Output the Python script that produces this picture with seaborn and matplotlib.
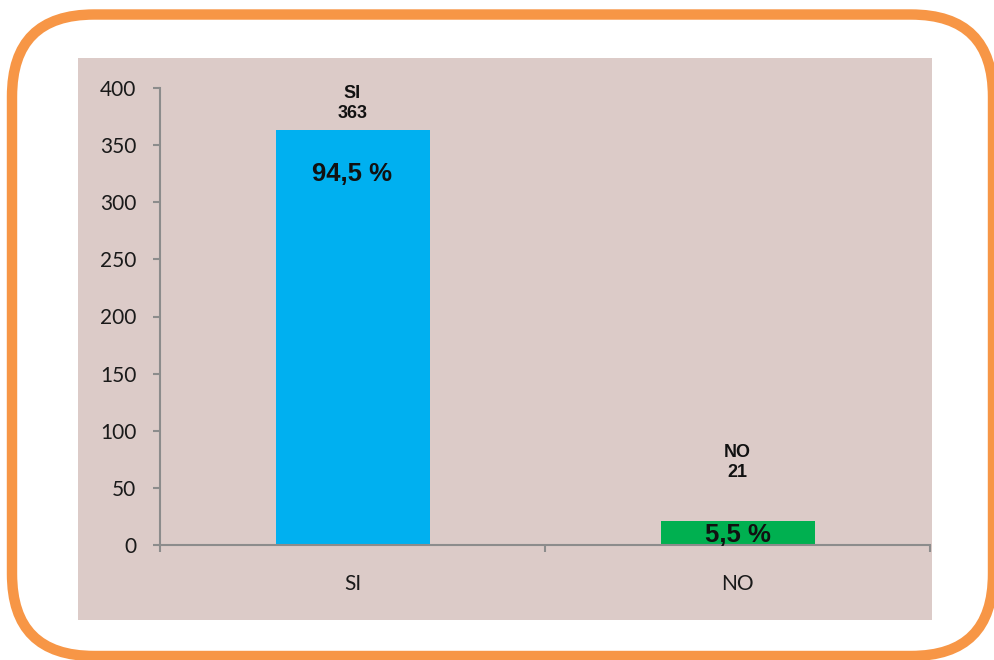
import matplotlib
matplotlib.use("Agg")
import matplotlib.pyplot as plt
from matplotlib.patches import FancyBboxPatch, Rectangle
import seaborn as sns
import pandas as pd

categories = ["SI", "NO"]
values = [363, 21]
percent_labels = ["94,5 %", "5,5 %"]
colors = ["#00B0F0", "#00B050"]

sns.set_style("white")
plt.rcParams["font.family"] = ["Liberation Sans", "DejaVu Sans"]
bold_family = ["Liberation Sans", "DejaVu Sans"]

W, H = 995, 660
fig = plt.figure(figsize=(W / 100, H / 100), dpi=100)
fig.patch.set_facecolor("white")

# background layer in pixel coordinates
bg = fig.add_axes([0, 0, 1, 1])
bg.set_xlim(0, W)
bg.set_ylim(H, 0)
bg.axis("off")
bg.add_patch(Rectangle((78, 58), 854, 562, facecolor="#DCCBC8", edgecolor="none"))
bg.add_patch(FancyBboxPatch((12, 14.5), 981, 641.5,
                            boxstyle="round,pad=0,rounding_size=82",
                            facecolor="none", edgecolor="#F79646", linewidth=7.5))

ax = fig.add_axes([160 / W, 1 - 545 / H, 770 / W, 457 / H])
ax.set_facecolor("none")
df = pd.DataFrame({"cat": categories, "val": values})
sns.barplot(data=df, x="cat", y="val", hue="cat", palette=colors, width=0.4,
            legend=False, ax=ax, saturation=1, edgecolor="none", linewidth=0)

ax.set_xlim(-0.5, 1.5)
ax.set_ylim(0, 400)
ax.set_yticks(range(0, 401, 50))
ax.set_xlabel("")
ax.set_ylabel("")
for s in ["top", "right"]:
    ax.spines[s].set_visible(False)
for s in ["left", "bottom"]:
    ax.spines[s].set_color("#8C8C8C")
    ax.spines[s].set_linewidth(1.5)

ax.set_xticks([0, 1])
ax.set_xticklabels(categories)
ax.set_xticks([-0.5, 0.5, 1.5], minor=True)
ax.tick_params(axis="x", which="major", bottom=False, length=0, pad=21)
ax.tick_params(axis="x", which="minor", bottom=True, length=5, width=1.5,
               color="#8C8C8C", direction="out")
ax.tick_params(axis="y", which="major", left=True, length=5, width=1.5, color="#8C8C8C",
               direction="out", pad=12)
for lab in ax.get_xticklabels() + ax.get_yticklabels():
    lab.set_fontfamily(["Lato", "DejaVu Sans"])
    lab.set_fontsize(15)
    lab.set_color("#1a1a1a")

# value labels (name + value above each bar)
label_offsets = [8, 40]     # pixels above bar top
pct_offsets = [-44, -14]    # pixels from bar top to percent text centre
for i, (c, v, p) in enumerate(zip(categories, values, percent_labels)):
    ax.annotate(f"{c}\n{v}", xy=(i, v), xytext=(0, label_offsets[i] * 0.72),
                textcoords="offset points", ha="center", va="bottom",
                fontsize=13, fontweight="bold", linespacing=1.25,
                family=bold_family, color="#111111")
    ax.annotate(p, xy=(i, v), xytext=(0, pct_offsets[i] * 0.72),
                textcoords="offset points", ha="center", va="center",
                fontsize=18.5, fontweight="bold",
                family=bold_family, color="#111111")

fig.savefig("out.png", dpi=100, facecolor="white")
